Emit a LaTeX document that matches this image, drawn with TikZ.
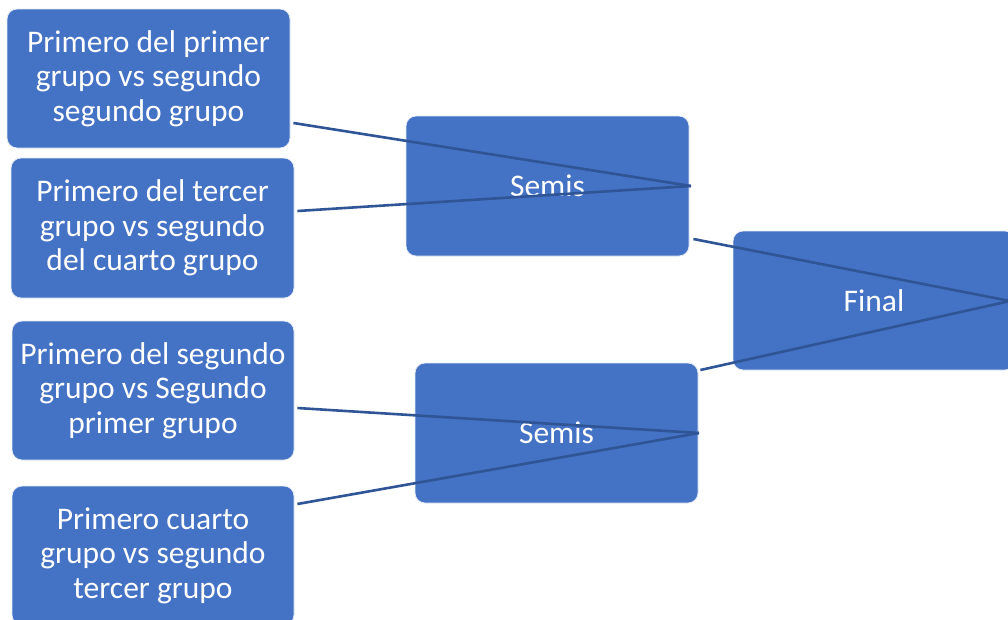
\documentclass[tikz,border=0pt]{standalone}
\usepackage{fontspec}
\setmainfont{Carlito}
\definecolor{boxfill}{HTML}{4472C4}
\definecolor{linkcol}{HTML}{2F5597}
\begin{document}
\begin{tikzpicture}[x=1pt,y=-1pt,
  box/.style={draw=white!85!boxfill, line width=0.8pt, fill=boxfill, rounded corners=10pt,
    text=white, font=\fontsize{31.5}{34.5}\selectfont, align=center, inner sep=0pt},
  link/.style={draw=linkcol, line width=2.6pt}]
\useasboundingbox (0,0) rectangle (1008,619);
\node[box, minimum width=283pt, minimum height=139pt] (a) at (148.5,78.5) {Primero del primer\\grupo vs segundo\\segundo grupo};
\node[box, minimum width=283pt, minimum height=140pt] (b) at (152.5,228) {Primero del tercer\\grupo vs segundo\\del cuarto grupo};
\node[box, minimum width=282pt, minimum height=139pt] (c) at (153,390.5) {Primero del segundo\\grupo vs Segundo\\primer grupo};
\node[box, minimum width=282pt, minimum height=139pt] (d) at (153,555.5) {Primero cuarto\\grupo vs segundo\\tercer grupo};
\node[box, minimum width=283pt, minimum height=140pt] (s1) at (547.5,186) {Semis};
\node[box, minimum width=283pt, minimum height=140pt] (s2) at (556.5,433) {Semis};
\node[box, minimum width=282pt, minimum height=139pt] (f) at (874,300.5) {Final};
\coordinate (p1) at (691,186);
\coordinate (p2) at (699,433);
\coordinate (p3) at (1010,301);
\draw[link] (a.east |- 0,123) ++(3,0) -- (p1);
\draw[link] (b.east |- 0,211) ++(3,0) -- (p1);
\draw[link] (c.east |- 0,408) ++(3,0) -- (p2);
\draw[link] (d.east |- 0,504) ++(3,0) -- (p2);
\draw[link] (s1.east |- 0,239) ++(4,0) -- (p3);
\draw[link] (s2.east |- 0,370) ++(2,0) -- (p3);
\end{tikzpicture}
\end{document}
